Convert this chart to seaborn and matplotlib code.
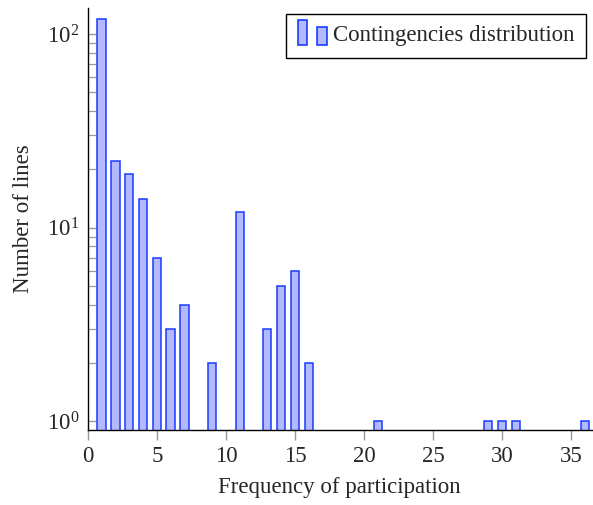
""" Distribución de contingencias (barras, eje y logarítmico) """

import pandas as pd
import seaborn as sns
import matplotlib.pyplot as plt
from matplotlib.patches import Rectangle
from matplotlib.legend_handler import HandlerBase

# Datos

frecuencia = [1, 2, 3, 4, 5, 6, 7, 9, 11, 13, 14, 15, 16, 21, 29, 30, 31, 36]
num_lineas = [120, 22, 19, 14, 7, 3, 4, 2, 12, 3, 5, 6, 2, 1, 1, 1, 1, 1]
etiqueta = 'Contingencies distribution'

df = pd.DataFrame({'Frecuencia': frecuencia, 'Lineas': num_lineas})

relleno = '#b3b8ff'
borde = '#1a3cff'


class DosBarras(HandlerBase):
    """Icono de leyenda estilo pgfplots: dos barras de distinta altura"""
    def create_artists(self, legend, orig_handle, xdescent, ydescent,
                       width, height, fontsize, trans):
        w = width * 0.3
        y0 = -ydescent - 0.2 * height
        r1 = Rectangle((-xdescent, y0), w, height * 1.5,
                       facecolor=relleno, edgecolor=borde, lw=1.2, transform=trans)
        r2 = Rectangle((-xdescent + width * 0.62, y0), w, height * 1.1,
                       facecolor=relleno, edgecolor=borde, lw=1.2, transform=trans)
        return [r1, r2]


sns.set_style('ticks')
plt.rcParams['font.family'] = ['Liberation Serif', 'DejaVu Serif']
plt.rcParams['mathtext.fontset'] = 'stix'

fig = plt.figure(figsize=(5.93, 5.05), dpi=100)
ax = fig.add_axes([0.148, 0.149, 0.85, 0.835])

sns.barplot(data=df, x='Frecuencia', y='Lineas', native_scale=True, width=0.6,
            color=relleno, edgecolor=borde, linewidth=1.1, saturation=1, ax=ax)
ax.set_yscale('log', nonpositive='clip')

ax.set_xlim(0, 36.5)
ax.set_ylim(0.906, 136)
ax.set_xticks([0, 5, 10, 15, 20, 25, 30, 35])
ax.set_yticks([1, 10, 100])

for s in ['top', 'right']:
    ax.spines[s].set_visible(False)
for s in ['left', 'bottom']:
    ax.spines[s].set_linewidth(1.0)
    ax.spines[s].set_color('black')

fs = 16.5
ax.tick_params(axis='x', which='major', direction='out', length=7, width=1,
               color='#999999', labelsize=fs, pad=5)
ax.tick_params(axis='y', which='major', direction='in', length=7, width=1,
               color='#999999', labelsize=fs, pad=6)
ax.tick_params(axis='y', which='minor', direction='in', length=5.5, width=0.9,
               color='#999999')

ax.set_xlabel('Frequency of participation', fontsize=fs, labelpad=7)
ax.set_ylabel('Number of lines', fontsize=fs, labelpad=9)

ax.legend([Rectangle((0, 0), 1, 1)], [etiqueta], handler_map={Rectangle: DosBarras()},
          loc='upper right', fontsize=fs, fancybox=False, edgecolor='black',
          framealpha=1, borderaxespad=0.25, handlelength=1.4, handletextpad=0.15,
          borderpad=0.5).get_frame().set_linewidth(1.0)

plt.savefig('out.png', dpi=100)
